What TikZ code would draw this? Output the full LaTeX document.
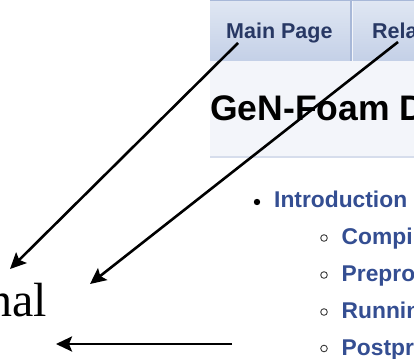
\documentclass[tikz,border=0pt]{standalone}
\usepackage{fontspec}
\setsansfont{Liberation Sans}
\newfontfamily\wordserif{Liberation Serif}
\usetikzlibrary{arrows.meta}
\definecolor{hdtop}{RGB}{224,231,243}
\definecolor{hdbot}{RGB}{196,208,231}
\definecolor{hdline}{RGB}{168,184,216}
\definecolor{titlebg}{RGB}{243,245,250}
\definecolor{titleline}{RGB}{214,221,236}
\definecolor{navy}{RGB}{40,56,100}
\definecolor{linkblue}{RGB}{52,78,146}
\definecolor{bulletgray}{RGB}{60,60,60}
\tikzset{
  tabtext/.style={anchor=base west, inner sep=0pt, text=navy, font=\sffamily\bfseries\fontsize{21.5}{25}\selectfont},
  titletext/.style={anchor=base west, inner sep=0pt, text=black, font=\sffamily\bfseries\fontsize{35.5}{40}\selectfont},
  itemtext/.style={anchor=base west, inner sep=0pt, text=linkblue, font=\sffamily\bfseries\fontsize{22.8}{27}\selectfont},
  serifword/.style={anchor=base east, inner sep=0pt, text=black, font=\wordserif\fontsize{48}{52}\selectfont},
  arr/.style={line width=2.6pt, -{Stealth[length=16pt,width=15pt,inset=3pt]}},
  subbullet/.style={draw=bulletgray, line width=0.9pt, fill=white},
}
\begin{document}
\begin{tikzpicture}[x=1pt,y=-1pt]
\useasboundingbox (0,0) rectangle (414,358);
\clip (0,0) rectangle (414,358);
\fill[white] (0,0) rectangle (414,358);
% header bar
\shade[top color=hdtop, bottom color=hdbot] (210,0) rectangle (414,61);
\fill[hdline] (210,0) rectangle (414,1.5);
\fill[hdline] (350.3,1.5) rectangle (352,61);
\fill[white!60!hdtop] (352,1.5) rectangle (353,61);
% title area
\fill[titlebg] (210,61) rectangle (414,156);
\fill[titleline] (210,155.5) rectangle (414,158);
% texts
\node[tabtext] (main) at (226,39) {Main Page};
\node[tabtext] (rela) at (372,39) {Rela};
\node[titletext] (title) at (210,121) {GeN-Foam D};
\fill[black] (257,202) circle (3.2pt);
\node[itemtext] (intro) at (274,207.5) {Introduction};
\foreach \yy/\txt/\nm in {238/Compi/i1, 275/Prepro/i2, 312/Runnin/i3, 348.5/Postpr/i4}{
  \draw[subbullet] (324,\yy) circle (3.3pt);
  \node[itemtext] (\nm) at (341.5,\yy+6.5) {\txt};
}
\node[serifword] (nal) at (47,316) {nal};
% arrows
\coordinate (a1s) at (238,43);
\coordinate (a1e) at (10,269);
\coordinate (a2s) at (398,42);
\coordinate (a2e) at (90,284);
\coordinate (a3s) at (232,344);
\coordinate (a3e) at (56,344);
\draw[arr] (a1s) -- (a1e);
\draw[arr] (a2s) -- (a2e);
\draw[arr] (a3s) -- (a3e);
\end{tikzpicture}
\end{document}
